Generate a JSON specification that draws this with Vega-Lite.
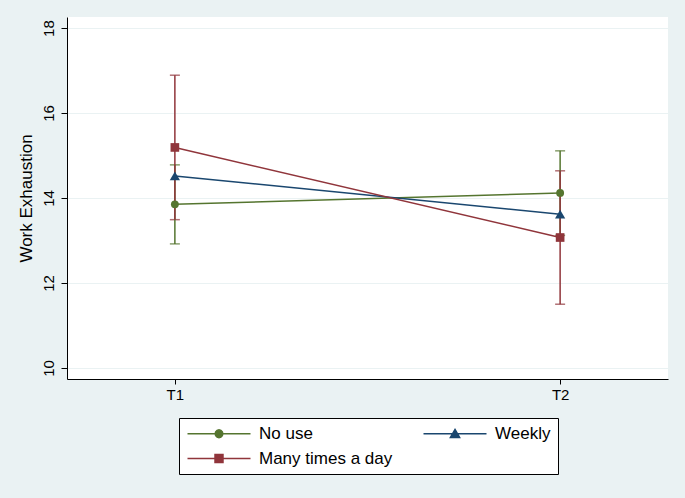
{
  "$schema": "https://vega.github.io/schema/vega-lite/v6.json",
  "width": 601,
  "height": 362,
  "autosize": "none",
  "padding": {"left": 67, "top": 17, "right": 17, "bottom": 119},
  "background": "#EAF2F3",
  "view": {"fill": "white", "stroke": null},
  "config": {
    "view": {"stroke": null, "fill": "white"},
    "font": "Liberation Sans",
    "axis": {
      "domainColor": "black",
      "domainWidth": 1,
      "tickColor": "black",
      "tickWidth": 1,
      "labelColor": "black",
      "titleColor": "black",
      "titleFontWeight": "normal",
      "labelFontSize": 15,
      "titleFontSize": 17,
      "gridColor": "#EAF2F3",
      "gridWidth": 1
    },
    "legend": {
      "title": null,
      "orient": "none",
      "legendX": 112,
      "legendY": 401,
      "columns": 2,
      "direction": "horizontal",
      "fillColor": "white",
      "strokeColor": "black",
      "padding": 7,
      "columnPadding": 27,
      "rowPadding": 7,
      "labelFontSize": 17,
      "labelColor": "black",
      "labelOffset": 56,
      "symbolSize": 196,
      "symbolStrokeWidth": 1.5,
      "symbolOpacity": 1
    }
  },
  "data": {
    "values": [
      {"series": "No use", "time": "T1", "mean": 13.85, "lo": 12.92, "hi": 14.78},
      {"series": "No use", "time": "T2", "mean": 14.12, "lo": 13.12, "hi": 15.11},
      {"series": "Weekly", "time": "T1", "mean": 14.52, "lo": null, "hi": null},
      {"series": "Weekly", "time": "T2", "mean": 13.62, "lo": null, "hi": null},
      {"series": "Many times a day", "time": "T1", "mean": 15.19, "lo": 13.49, "hi": 16.89},
      {"series": "Many times a day", "time": "T2", "mean": 13.07, "lo": 11.5, "hi": 14.64}
    ]
  },
  "layer": [
    {
      "transform": [{"filter": "isValid(datum.lo)"}],
      "mark": {"type": "errorbar", "ticks": {"size": 10, "thickness": 1.5}, "rule": {"strokeWidth": 1.5}},
      "encoding": {
        "x": {"field": "time", "type": "nominal", "scale": {"type": "point", "padding": 0.28}, "axis": {"title": null, "labelAngle": 0, "tickSize": 5, "labelPadding": 3, "grid": false}},
        "y": {"field": "lo", "type": "quantitative", "title": "Work Exhaustion", "scale": {"domain": [9.74, 18.26], "nice": false, "zero": false}, "axis": {"values": [10, 12, 14, 16, 18], "labelAngle": -90, "labelAlign": "center", "labelBaseline": "bottom", "labelPadding": 5, "tickSize": 6, "grid": true, "titlePadding": 6}},
        "y2": {"field": "hi"},
        "color": {"field": "series", "type": "nominal", "scale": {"domain": ["No use", "Weekly", "Many times a day"], "range": ["#55752f", "#1a476f", "#90353b"]}}
      }
    },
    {
      "mark": {"type": "line", "strokeWidth": 1.5},
      "encoding": {
        "x": {"field": "time", "type": "nominal"},
        "y": {"field": "mean", "type": "quantitative", "title": "Work Exhaustion"},
        "color": {"field": "series", "type": "nominal"}
      }
    },
    {
      "transform": [{"filter": "datum.series == 'No use'"}],
      "mark": {"type": "point", "filled": true, "opacity": 1, "shape": "circle", "size": 62},
      "encoding": {
        "x": {"field": "time", "type": "nominal"},
        "y": {"field": "mean", "type": "quantitative", "title": "Work Exhaustion"},
        "color": {"field": "series", "type": "nominal"}
      }
    },
    {
      "transform": [{"filter": "datum.series == 'Weekly'"}],
      "mark": {"type": "point", "filled": true, "opacity": 1, "shape": "triangle-up", "size": 105},
      "encoding": {
        "x": {"field": "time", "type": "nominal"},
        "y": {"field": "mean", "type": "quantitative", "title": "Work Exhaustion"},
        "color": {"field": "series", "type": "nominal"}
      }
    },
    {
      "transform": [{"filter": "datum.series == 'Many times a day'"}],
      "mark": {"type": "point", "filled": true, "opacity": 1, "shape": "square", "size": 75},
      "encoding": {
        "x": {"field": "time", "type": "nominal"},
        "y": {"field": "mean", "type": "quantitative", "title": "Work Exhaustion"},
        "color": {"field": "series", "type": "nominal"}
      }
    },
    {
      "transform": [{"filter": "datum.time == 'legend-only'"}],
      "mark": {"type": "point", "filled": true, "strokeWidth": 1.5},
      "encoding": {
        "color": {"field": "series", "type": "nominal"},
        "stroke": {"field": "series", "type": "nominal", "scale": {"domain": ["No use", "Weekly", "Many times a day"], "range": ["#55752f", "#1a476f", "#90353b"]}},
        "shape": {"field": "series", "type": "nominal", "scale": {"domain": ["No use", "Weekly", "Many times a day"], "range": [
          "M-1,0H8M4.05,0L3.976,0.275L3.775,0.476L3.5,0.55L3.225,0.476L3.024,0.275L2.95,0L3.024,-0.275L3.225,-0.476L3.5,-0.55L3.775,-0.476L3.976,-0.275Z",
          "M-1,0H8M3.5,-0.62L4.16,0.52L2.84,0.52Z",
          "M-1,0H8M2.93,-0.57H4.07V0.57H2.93Z"
        ]}}
      }
    }
  ]
}
